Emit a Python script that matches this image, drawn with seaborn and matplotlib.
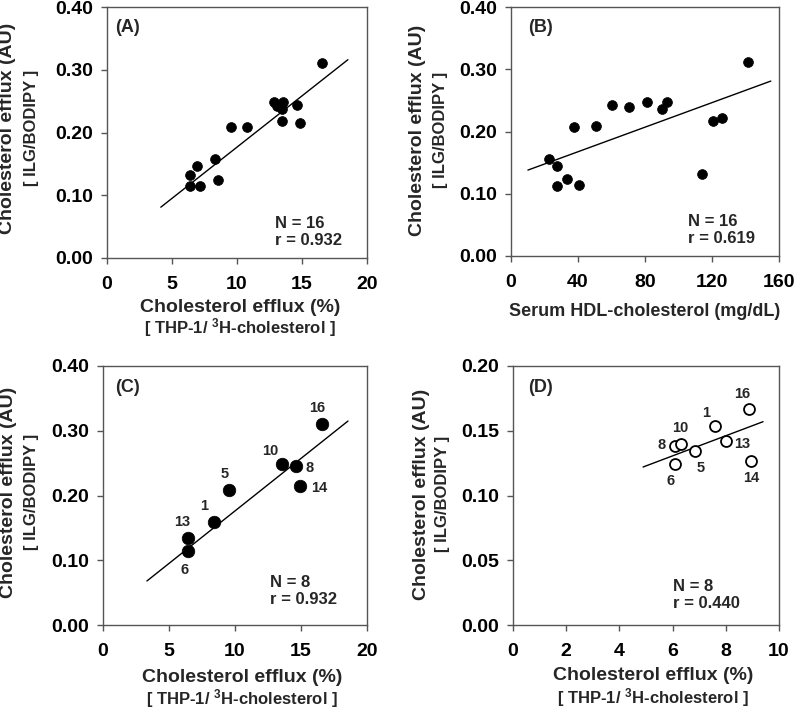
import matplotlib
matplotlib.use("Agg")
import matplotlib.pyplot as plt
import seaborn as sns
import pandas as pd

# ---------------- data ----------------
a_x = [16.56, 12.85, 13.52, 13.07, 13.45, 13.47, 14.58, 14.81, 9.54, 10.77, 8.33, 8.51, 6.92, 6.35, 6.35, 7.15]
a_y = [0.311, 0.249, 0.249, 0.242, 0.238, 0.219, 0.244, 0.215, 0.208, 0.209, 0.157, 0.125, 0.147, 0.132, 0.115, 0.114]
a_fit_x = [4.14, 18.53]
a_fit_y = [0.081, 0.316]

b_x = [141.2, 60.2, 70.4, 81.1, 90.3, 93.0, 37.6, 50.5, 22.7, 27.6, 27.6, 33.6, 40.4, 113.9, 120.7, 126.0]
b_y = [0.311, 0.243, 0.240, 0.247, 0.236, 0.248, 0.207, 0.209, 0.156, 0.145, 0.113, 0.124, 0.114, 0.132, 0.217, 0.221]
b_fit_x = [10.1, 155.1]
b_fit_y = [0.138, 0.281]

c_ids = ["1", "5", "6", "8", "10", "13", "14", "16"]
c_x = [8.41, 9.55, 6.44, 14.62, 13.59, 6.46, 14.90, 16.62]
c_y = [0.159, 0.208, 0.115, 0.245, 0.248, 0.134, 0.215, 0.311]
c_fit_x = [3.33, 18.56]
c_fit_y = [0.068, 0.315]

d_ids = ["1", "5", "6", "8", "10", "13", "14", "16"]
d_x = [7.58, 6.84, 6.09, 6.09, 6.33, 8.02, 8.96, 8.87]
d_y = [0.154, 0.134, 0.124, 0.138, 0.140, 0.142, 0.127, 0.167]
d_fit_x = [4.89, 9.40]
d_fit_y = [0.122, 0.157]

panel_tags = ["(A)", "(B)", "(C)", "(D)"]
stats_text = ["N = 16\nr = 0.932", "N = 16\nr = 0.619", "N = 8\nr = 0.932", "N = 8\nr = 0.440"]
y_line1 = "Cholesterol efflux (AU)"
y_line2 = "[ ILG/BODIPY ]"
x_line1 = "Cholesterol efflux (%)"
x_line2 = "[ THP-1/ $^{3}$H-cholesterol ]"
x_label_b = "Serum HDL-cholesterol (mg/dL)"

# ---------------- style ----------------
sns.set_theme(style="white")
plt.rcParams["font.family"] = ["Liberation Sans", "DejaVu Sans"]
plt.rcParams["font.weight"] = "bold"
plt.rcParams["mathtext.fontset"] = "custom"
plt.rcParams["mathtext.rm"] = "Liberation Sans:bold"
plt.rcParams["mathtext.it"] = "Liberation Sans:bold"
plt.rcParams["mathtext.bf"] = "Liberation Sans:bold"

W, H = 797, 709
fig = plt.figure(figsize=(W / 100, H / 100), dpi=100)

def rect(l, t, r, b):
    return [l / W, 1 - b / H, (r - l) / W, (b - t) / H]

axA = fig.add_axes(rect(107, 7, 367, 258))
axB = fig.add_axes(rect(511, 7, 779, 256))
axC = fig.add_axes(rect(103, 366, 367, 625))
axD = fig.add_axes(rect(513, 366, 779, 625))

spine_col = "#555555"

def style_axes(ax, xlim, xticks, ylim, yticks, yfmt):
    ax.set_xlim(*xlim)
    ax.set_ylim(*ylim)
    ax.set_xticks(xticks)
    ax.set_yticks(yticks)
    ax.set_xticklabels([str(t) for t in xticks])
    ax.set_yticklabels([yfmt.format(t) for t in yticks])
    for s in ax.spines.values():
        s.set_color(spine_col)
        s.set_linewidth(1.0)
        s.set_visible(True)
    ax.tick_params(axis="both", which="both", direction="out", length=4, width=1.0,
                   color=spine_col, labelsize=14, labelcolor="black",
                   bottom=True, left=True, top=False, right=False)
    ax.tick_params(axis="x", pad=9)
    ax.tick_params(axis="y", pad=6)
    for lab in ax.get_xticklabels() + ax.get_yticklabels():
        lab.set_fontweight("bold")
    ax.set_xlabel("")
    ax.set_ylabel("")
    ax.grid(False)

def scatter(ax, x, y, size, filled=True):
    df = pd.DataFrame({"x": x, "y": y})
    if filled:
        sns.scatterplot(data=df, x="x", y="y", ax=ax, s=size, color="black",
                        edgecolor="black", linewidth=0.5, zorder=3, legend=False)
    else:
        sns.scatterplot(data=df, x="x", y="y", ax=ax, s=size, facecolor="white",
                        edgecolor="black", linewidth=1.3, zorder=3, legend=False)

def fitline(ax, fx, fy):
    df = pd.DataFrame({"x": fx, "y": fy})
    sns.lineplot(data=df, x="x", y="y", ax=ax, color="black", linewidth=1.0,
                 zorder=2, legend=False)

# Panel A
scatter(axA, a_x, a_y, 50)
fitline(axA, a_fit_x, a_fit_y)
style_axes(axA, (0, 20), [0, 5, 10, 15, 20], (0, 0.4), [0.0, 0.1, 0.2, 0.3, 0.4], "{:.2f}")

# Panel B
scatter(axB, b_x, b_y, 50)
fitline(axB, b_fit_x, b_fit_y)
style_axes(axB, (0, 160), [0, 40, 80, 120, 160], (0, 0.4), [0.0, 0.1, 0.2, 0.3, 0.4], "{:.2f}")

# Panel C
scatter(axC, c_x, c_y, 82)
fitline(axC, c_fit_x, c_fit_y)
style_axes(axC, (0, 20), [0, 5, 10, 15, 20], (0, 0.4), [0.0, 0.1, 0.2, 0.3, 0.4], "{:.2f}")

# Panel D
scatter(axD, d_x, d_y, 62, filled=False)
fitline(axD, d_fit_x, d_fit_y)
style_axes(axD, (0, 10), [0, 2, 4, 6, 8, 10], (0, 0.2), [0.0, 0.05, 0.10, 0.15, 0.20], "{:.2f}")

# point labels (offsets in pixels)
c_off = {"16": (-5, 16), "10": (-12, 13), "8": (14, -2), "14": (20, -2),
         "5": (-4, 16), "1": (-10, 16), "13": (-6, 16), "6": (-3, -19)}
d_off = {"16": (-7, 15), "1": (-9, 13), "10": (-1, 16), "8": (-13, 1),
         "13": (16, -3), "5": (6, -17), "6": (-4, -17), "14": (0, -17)}
for ids, xs, ys, ax, off in [(c_ids, c_x, c_y, axC, c_off), (d_ids, d_x, d_y, axD, d_off)]:
    for i, xx, yy in zip(ids, xs, ys):
        ax.annotate(i, (xx, yy), xytext=off[i], textcoords="offset pixels",
                    ha="center", va="center", fontsize=10.5, fontweight="bold", zorder=4)

# panel tags and stats
def ftext(x, y, s, **kw):
    fig.text(x / W, 1 - y / H, s, fontweight="bold", **kw)

ftext(115, 27, panel_tags[0], fontsize=13, ha="left", va="center")
ftext(528, 27, panel_tags[1], fontsize=13, ha="left", va="center")
ftext(115, 388, panel_tags[2], fontsize=13, ha="left", va="center")
ftext(528, 387, panel_tags[3], fontsize=13, ha="left", va="center")

for (x, y), s in zip([(275, 232), (688, 230), (270, 591), (673, 595)], stats_text):
    ftext(x, y, s, fontsize=12, ha="left", va="center", linespacing=1.2)

# axis labels
# y labels
for x1, x2, yc in [(8, 32, 128), (417, 441, 130), (9, 32, 492), (421, 443, 494)]:
    ftext(x1, yc, y_line1, fontsize=14, rotation=90, ha="center", va="center")
    ftext(x2, yc, y_line2, fontsize=12, rotation=90, ha="center", va="center")

# x labels
ftext(240, 307, x_line1, fontsize=14, ha="center", va="center")
ftext(240, 328, x_line2, fontsize=12, ha="center", va="center")
ftext(645, 312, x_label_b, fontsize=13, ha="center", va="center")
ftext(242, 678, x_line1, fontsize=14, ha="center", va="center")
ftext(242, 699, x_line2, fontsize=12, ha="center", va="center")
ftext(653, 675, x_line1, fontsize=14, ha="center", va="center")
ftext(653, 698, x_line2, fontsize=12, ha="center", va="center")

fig.savefig("out.png", dpi=100)
